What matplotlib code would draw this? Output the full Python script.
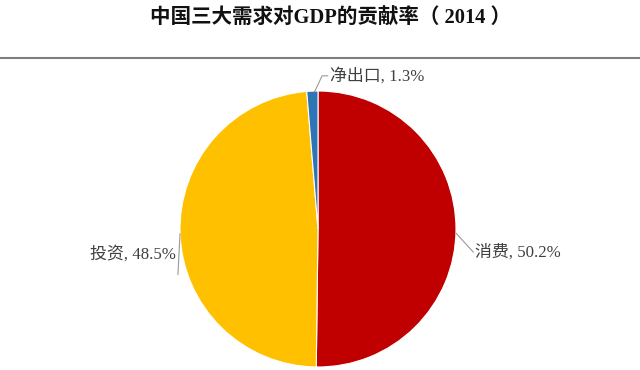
import matplotlib
matplotlib.use("Agg")
import matplotlib.pyplot as plt
from matplotlib.lines import Line2D

# ── data ───────────────────────────────────────────────────────────────────
categories = ["消费", "投资", "净出口"]
shares = [50.2, 48.5, 1.3]
colors = ["#C00000", "#FFC000", "#2E75B6"]
title = "中国三大需求对GDP的贡献率（ 2014 ）"

FONTS = ["Liberation Serif", "Noto Sans CJK SC", "DejaVu Sans"]
TXT = "#404040"

fig = plt.figure(figsize=(6.4, 3.7), dpi=100)
fig.patch.set_facecolor("white")

# pie axes placed in pixel terms (pie centre ~ (318, 229), radius ~138 px)
ax = fig.add_axes([180 / 640, 3 / 370, 276 / 640, 276 / 370])
ax.pie(shares, colors=colors, startangle=90, counterclock=False,
       radius=1.0, wedgeprops=dict(edgecolor="white", linewidth=0.8))
ax.set_xlim(-1, 1)
ax.set_ylim(-1, 1)
ax.set_aspect("equal")
ax.axis("off")

# labels with leader lines
label_cfg = [
    # text xy, leader points, ha
    ((1.14, -0.167), [(1.0, -0.03), (1.125, -0.167)], "left"),
    ((-1.03, -0.18), [(-1.0, -0.035), (-1.015, -0.33)], "right"),
    ((0.085, 1.11), [(-0.025, 0.995), (0.03, 1.11), (0.07, 1.11)], "left"),
]
for (cat, val), (txy, pts, ha) in zip(zip(categories, shares), label_cfg):
    xs, ys = zip(*pts)
    ax.add_line(Line2D(xs, ys, color="#9a9a9a", lw=0.8, clip_on=False))
    ax.text(txy[0], txy[1], f"{cat}, {val}%", ha=ha, va="center",
            fontsize=12.2, color=TXT, family=FONTS, clip_on=False)

# title and separator
fig.text(331 / 640, 1 - 19 / 370, title, ha="center", va="center",
         fontsize=14.8, fontweight="bold", color="#111111", family=FONTS)
fig.add_artist(Line2D([0, 1], [1 - 58 / 370] * 2, color="#7f7f7f", lw=1.5,
                      transform=fig.transFigure))

fig.savefig("out.png", dpi=100, facecolor="white")
